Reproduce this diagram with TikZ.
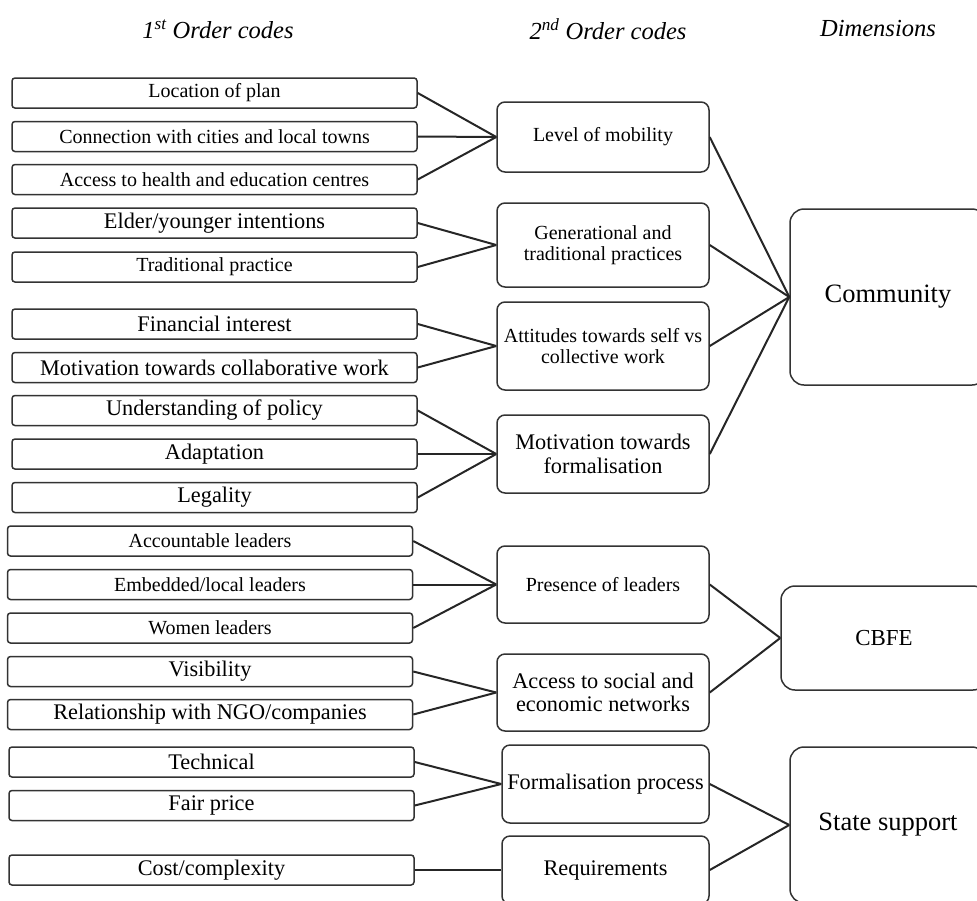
\documentclass[tikz,border=0pt]{standalone}
\usepackage{fontspec}
\setmainfont{Liberation Serif}
\usetikzlibrary{positioning}

\begin{document}
\begin{tikzpicture}[x=1pt,y=-1pt,
    fobox/.style={draw=black!80,line width=1.5pt,rounded corners=3pt,minimum width=405pt,minimum height=30pt,inner sep=0pt,font=\fontsize{20}{21}\selectfont},
    fobigbox/.style={fobox,font=\fontsize{22.3}{23.4}\selectfont},
    sobox/.style={draw=black!80,line width=1.5pt,rounded corners=8pt,minimum width=212pt,inner sep=0pt,align=center,font=\fontsize{20}{21}\selectfont},
    sobigbox/.style={sobox,font=\fontsize{22.3}{23.4}\selectfont},
    dimbox/.style={draw=black!80,line width=1.5pt,rounded corners=14pt,minimum width=196pt,inner sep=0pt,font=\fontsize{26.5}{28}\selectfont},
    header/.style={font=\fontsize{24.5}{26}\selectfont\itshape},
    link/.style={black!85,line width=2pt}]
      \useasboundingbox (0,0) rectangle (977,900);
      \clip (0,0) rectangle (977,900);
      \node[header] (h1) at (218,29) {1\textsuperscript{st} Order codes};
      \node[header] (h2) at (608,29) {2\textsuperscript{nd} Order codes};
      \node[header] (h3) at (878,29) {Dimensions};
      % first order codes
      \node[fobox] (fo1) at (214.5,93) {Location of plan};
      \node[fobox] (fo2) at (214.5,136.5) {Connection with cities and local towns};
      \node[fobox] (fo3) at (214.5,179.5) {Access to health and education centres};
      \node[fobigbox] (fo4) at (214.5,223) {Elder/younger intentions};
      \node[fobox] (fo5) at (214.5,267) {Traditional practice};
      \node[fobigbox] (fo6) at (214.5,324) {Financial interest};
      \node[fobigbox] (fo7) at (214.5,367.5) {Motivation towards collaborative work};
      \node[fobigbox] (fo8) at (214.5,410.5) {Understanding of policy};
      \node[fobigbox] (fo9) at (214.5,454) {Adaptation};
      \node[fobigbox] (fo10) at (214.5,497.5) {Legality};
      \node[fobox] (fo11) at (210,541) {Accountable leaders};
      \node[fobox] (fo12) at (210,584.5) {Embedded/local leaders};
      \node[fobox] (fo13) at (210,628) {Women leaders};
      \node[fobigbox] (fo14) at (210,671.5) {Visibility};
      \node[fobigbox] (fo15) at (210,714.5) {Relationship with NGO/companies};
      \node[fobigbox] (fo16) at (211.5,762) {Technical};
      \node[fobigbox] (fo17) at (211.5,805.5) {Fair price};
      \node[fobigbox] (fo18) at (211.5,870) {Cost/complexity};
      % second order codes
      \node[sobox,minimum height=70pt] (so1) at (603,137) {Level of mobility};
      \node[sobox,minimum height=84pt] (so2) at (603,245) {Generational and\\traditional practices};
      \node[sobox,minimum height=88pt] (so3) at (603,346) {Attitudes towards self vs\\collective work};
      \node[sobigbox,minimum height=78pt] (so4) at (603,454) {Motivation towards\\formalisation};
      \node[sobox,minimum height=77pt] (so5) at (603,584.5) {Presence of leaders};
      \node[sobigbox,minimum height=77pt] (so6) at (603,692.5) {Access to social and\\economic networks};
      \node[sobigbox,minimum width=207pt,minimum height=78pt] (so7) at (605.5,784) {Formalisation process};
      \node[sobigbox,minimum width=207pt,minimum height=68pt] (so8) at (605.5,870) {Requirements};
      % dimensions
      \node[dimbox,minimum height=176pt] (dim1) at (888,297) {Community};
      \node[dimbox,minimum width=206pt,minimum height=104pt,font=\fontsize{22.9}{24}\selectfont] (dim2) at (884,638) {CBFE};
      \node[dimbox,minimum height=156pt] (dim3) at (888,825) {State support};
      % links
      \draw[link] (fo1.east) -- (so1.west);
      \draw[link] (fo2.east) -- (so1.west);
      \draw[link] (fo3.east) -- (so1.west);
      \draw[link] (fo4.east) -- (so2.west);
      \draw[link] (fo5.east) -- (so2.west);
      \draw[link] (fo6.east) -- (so3.west);
      \draw[link] (fo7.east) -- (so3.west);
      \draw[link] (fo8.east) -- (so4.west);
      \draw[link] (fo9.east) -- (so4.west);
      \draw[link] (fo10.east) -- (so4.west);
      \draw[link] (fo11.east) -- (so5.west);
      \draw[link] (fo12.east) -- (so5.west);
      \draw[link] (fo13.east) -- (so5.west);
      \draw[link] (fo14.east) -- (so6.west);
      \draw[link] (fo15.east) -- (so6.west);
      \draw[link] (fo16.east) -- (so7.west);
      \draw[link] (fo17.east) -- (so7.west);
      \draw[link] (fo18.east) -- (so8.west);
      \draw[link] (so1.east) -- (dim1.west);
      \draw[link] (so2.east) -- (dim1.west);
      \draw[link] (so3.east) -- (dim1.west);
      \draw[link] (so4.east) -- (dim1.west);
      \draw[link] (so5.east) -- (dim2.west);
      \draw[link] (so6.east) -- (dim2.west);
      \draw[link] (so7.east) -- (dim3.west);
      \draw[link] (so8.east) -- (dim3.west);
\end{tikzpicture}
\end{document}
